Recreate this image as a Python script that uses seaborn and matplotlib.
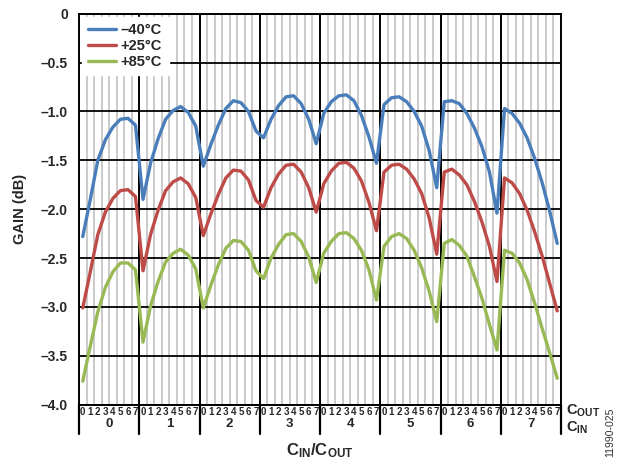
import numpy as np
import pandas as pd
import matplotlib
matplotlib.use('Agg')
import matplotlib.pyplot as plt
import matplotlib.transforms as mtransforms
import seaborn as sns

# C_IN groups, C_OUT settings inside each group
c_in = [0, 1, 2, 3, 4, 5, 6, 7]
c_out = [0, 1, 2, 3, 4, 5, 6, 7]

# gain (dB), one row per C_IN, 8 C_OUT values each
gain_m40 = [
    -2.28, -1.90, -1.50, -1.29, -1.16, -1.08, -1.07, -1.14,
    -1.90, -1.53, -1.28, -1.08, -0.99, -0.95, -1.01, -1.15,
    -1.56, -1.34, -1.14, -0.97, -0.89, -0.91, -1.00, -1.20,
    -1.27, -1.08, -0.94, -0.85, -0.84, -0.92, -1.08, -1.33,
    -1.02, -0.90, -0.84, -0.83, -0.89, -1.04, -1.26, -1.53,
    -0.93, -0.86, -0.85, -0.90, -1.00, -1.15, -1.40, -1.78,
    -0.90, -0.89, -0.92, -1.02, -1.17, -1.36, -1.62, -2.04,
    -0.97, -1.02, -1.12, -1.27, -1.48, -1.73, -2.02, -2.35,
]
gain_p25 = [
    -3.01, -2.64, -2.26, -2.03, -1.89, -1.81, -1.80, -1.87,
    -2.63, -2.26, -2.01, -1.81, -1.72, -1.68, -1.74, -1.88,
    -2.27, -2.05, -1.85, -1.68, -1.60, -1.61, -1.70, -1.91,
    -1.98, -1.78, -1.64, -1.55, -1.54, -1.62, -1.78, -2.03,
    -1.74, -1.61, -1.53, -1.52, -1.58, -1.71, -1.93, -2.22,
    -1.62, -1.55, -1.54, -1.59, -1.69, -1.84, -2.09, -2.46,
    -1.62, -1.59, -1.65, -1.75, -1.92, -2.13, -2.38, -2.74,
    -1.68, -1.73, -1.84, -2.01, -2.23, -2.48, -2.76, -3.04,
]
gain_p85 = [
    -3.76, -3.40, -3.05, -2.80, -2.64, -2.55, -2.55, -2.62,
    -3.36, -2.99, -2.74, -2.54, -2.45, -2.41, -2.47, -2.61,
    -3.01, -2.78, -2.57, -2.40, -2.32, -2.33, -2.42, -2.63,
    -2.71, -2.50, -2.36, -2.26, -2.25, -2.33, -2.49, -2.75,
    -2.45, -2.33, -2.25, -2.24, -2.30, -2.42, -2.62, -2.93,
    -2.38, -2.28, -2.25, -2.30, -2.42, -2.60, -2.84, -3.15,
    -2.35, -2.31, -2.37, -2.48, -2.69, -2.91, -3.18, -3.44,
    -2.42, -2.45, -2.55, -2.72, -2.96, -3.22, -3.47, -3.73,
]
temps = ['\u201340\u00b0C', '+25\u00b0C', '+85\u00b0C']
colors = ['#4A7EBB', '#BE4B48', '#98B954']
y_ticks = [0, -0.5, -1.0, -1.5, -2.0, -2.5, -3.0, -3.5, -4.0]


def build_frame():
    rows = []
    for name, vals in zip(temps, [gain_m40, gain_p25, gain_p85]):
        for i, ci in enumerate(c_in):
            for j, co in enumerate(c_out):
                rows.append({'pos': i * len(c_out) + j, 'gain': vals[i * len(c_out) + j], 'temp': name})
    return pd.DataFrame(rows)


def main():
    df = build_frame()
    n = len(c_in) * len(c_out)

    sns.set_style('white')
    plt.rcParams['font.family'] = ['Liberation Sans', 'DejaVu Sans']
    plt.rcParams['font.weight'] = 'bold'
    plt.rcParams['mathtext.fontset'] = 'custom'
    plt.rcParams['mathtext.rm'] = 'Liberation Sans:bold'
    plt.rcParams['mathtext.bf'] = 'Liberation Sans:bold'
    plt.rcParams['mathtext.it'] = 'Liberation Sans:bold'

    fig = plt.figure(figsize=(6.18, 4.63), dpi=100)
    ax = fig.add_axes([79 / 618, 1 - 404.7 / 463, 482 / 618, 391 / 463])

    # grid: light lines between categories, black at C_IN boundaries
    for b in range(1, n):
        if b % len(c_out):
            ax.axvline(b - 0.5, color='#c6c6c6', lw=1.3, zorder=0)
        else:
            ax.axvline(b - 0.5, color='black', lw=1.4, zorder=1)
    for y in y_ticks:
        ax.axhline(y, color='black', lw=1.3, zorder=1)

    sns.lineplot(data=df, x='pos', y='gain', hue='temp', palette=colors,
                 lw=2.4, ax=ax, zorder=3)

    ax.set_xlim(-0.5, n - 0.5)
    ax.set_ylim(-4.0, 0)
    ax.set_yticks(y_ticks)
    ax.set_yticklabels(['0' if v == 0 else f'\u2013{abs(v):.1f}' for v in y_ticks],
                       fontsize=10, fontweight='bold')
    ax.tick_params(axis='y', length=0, pad=8)

    ax.set_xticks(range(n))
    ax.set_xticklabels([str(c_out[k % len(c_out)]) for k in range(n)],
                       fontsize=7, fontweight='bold')
    ax.set_xticks(np.arange(-0.5, n, 1.0), minor=True)
    ax.tick_params(axis='x', which='major', length=0, pad=1.5)
    ax.tick_params(axis='x', which='minor', length=3, width=0.8, color='black', direction='out')
    ax.set_xlabel('')
    ax.set_ylabel('GAIN (dB)', fontsize=10.5, fontweight='bold', labelpad=10)

    for s in ax.spines.values():
        s.set_color('black')
        s.set_linewidth(1.4)

    # C_IN separators and labels under the axis
    trans = mtransforms.blended_transform_factory(ax.transData, ax.transAxes)
    for g in range(len(c_in) + 1):
        ax.plot([g * 8 - 0.5, g * 8 - 0.5], [0, -0.075], color='black', lw=1.6,
                transform=trans, clip_on=False)
    for g, ci in enumerate(c_in):
        ax.text(g * 8 + 3.5, -0.049, str(ci), transform=trans, ha='center', va='center',
                fontsize=9.5, fontweight='bold')

    fig.text(566 / 618, 1 - 411 / 463, r'$\mathbf{C_{OUT}}$', ha='left', va='center', fontsize=10.5)
    fig.text(566 / 618, 1 - 428 / 463, r'$\mathbf{C_{IN}}$', ha='left', va='center', fontsize=10.5)
    fig.text(320 / 618, 1 - 451 / 463, r'$\mathbf{C_{IN}/C_{OUT}}$', ha='center', va='center', fontsize=12)
    fig.text(610 / 618, 1 - 432 / 463, '11990-025', rotation=90, ha='center', va='center',
             fontsize=7.5, fontweight='normal', color='#333333')

    leg = ax.legend(loc='upper left', bbox_to_anchor=(0.0, 1.0), frameon=True, fancybox=False,
                    handlelength=1.9, handletextpad=0.3, labelspacing=0.12, borderpad=0.45,
                    borderaxespad=0.2, prop={'size': 10.5, 'weight': 'bold'})
    leg.get_frame().set_facecolor('white')
    leg.get_frame().set_edgecolor('white')
    leg.get_frame().set_alpha(1)
    leg.set_zorder(5)

    plt.savefig('out.png', dpi=100)


if __name__ == '__main__':
    main()
